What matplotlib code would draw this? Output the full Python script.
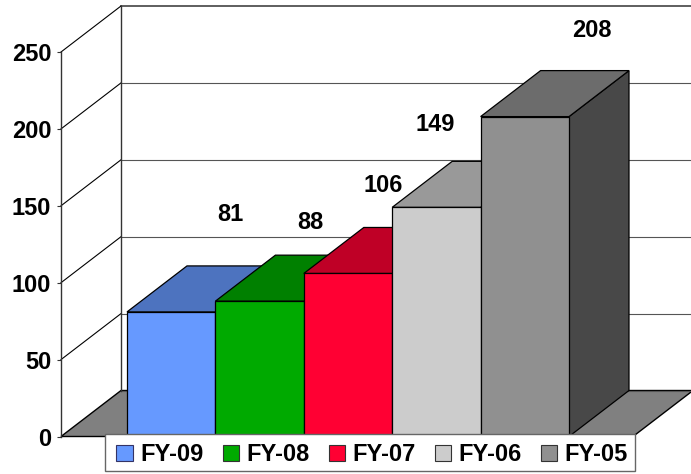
import matplotlib.pyplot as plt
from matplotlib.patches import Patch, Polygon, Rectangle
from matplotlib.colors import to_rgb

years = ['FY-09', 'FY-08', 'FY-07', 'FY-06', 'FY-05']
values = [81, 88, 106, 149, 208]
colors = ['#6699FF', '#00AA00', '#FF0033', '#CCCCCC', '#909090']
y_ticks = [0, 50, 100, 150, 200, 250]

# value labels sit away from the bars in the original, offset in pixels from bar top centre
label_offsets = [(59, -97), (51, -79), (35, -88), (-1, -83), (67, -86)]

W, H = 691, 474
plt.rcParams['font.family'] = ['Liberation Sans', 'DejaVu Sans']
fig = plt.figure(figsize=(W / 100, H / 100), dpi=100)
ax = fig.add_axes([0, 0, 1, 1])

# scale of the chart in pixels
px_per_unit = 384.5 / 250
bar_w = 88.4
bar_x0 = 127
axis_x = 61
y0_px = 436.5
depth_x = 60
depth_y = 46 / px_per_unit

ax.set_xlim(0, W)
ax.set_ylim((y0_px - H) / px_per_unit, y0_px / px_per_unit)
ax.patch.set_alpha(0)

for s in ['top', 'right', 'bottom']:
    ax.spines[s].set_visible(False)
ax.spines['left'].set_position(('data', axis_x))
ax.spines['left'].set_bounds(0, 250)
ax.spines['left'].set_color('#333333')
ax.spines['left'].set_linewidth(1)
ax.set_xticks([])
ax.set_yticks(y_ticks)
ax.tick_params(axis='y', length=3, width=0.8, color='#333333', pad=4, labelsize=17)
for t in ax.get_yticklabels():
    t.set_fontweight('bold')

# floor
back = axis_x + depth_x
ax.add_patch(Polygon([(axis_x, 0), (back, depth_y), (W + 2, depth_y), (W + 2 - depth_x, 0)],
                     facecolor='#808080', edgecolor='black', lw=1, zorder=1))

# back wall and grid
for v in y_ticks:
    lw = 1.1 if v == 250 else 0.8
    c = '#333333' if v == 250 else '#555555'
    ax.plot([back, W + 2], [v + depth_y] * 2, color=c, lw=lw, zorder=1)
    if v > 0:
        ax.plot([axis_x, back], [v, v + depth_y], color='black', lw=0.8, zorder=1)
ax.plot([back, back], [depth_y, 250 + depth_y], color='#333333', lw=1, zorder=1)

# bars, left to right so that each one covers the side of the previous
for i, (val, col) in enumerate(zip(values, colors)):
    x1 = bar_x0 + i * bar_w
    x2 = x1 + bar_w
    rgb = to_rgb(col)
    top = tuple(c * 0.75 for c in rgb)
    side = tuple(c * 0.5 for c in rgb)
    edge = dict(edgecolor='black', lw=0.9, joinstyle='miter')
    ax.add_patch(Polygon([(x2, 0), (x2 + depth_x, depth_y), (x2 + depth_x, val + depth_y), (x2, val)],
                         facecolor=side, zorder=3, **edge))
    ax.add_patch(Polygon([(x1, val), (x2, val), (x2 + depth_x, val + depth_y), (x1 + depth_x, val + depth_y)],
                         facecolor=top, zorder=3, **edge))
    ax.add_patch(Polygon([(x1, 0), (x2, 0), (x2, val), (x1, val)],
                         facecolor=col, zorder=3, **edge))

for i, (val, off) in enumerate(zip(values, label_offsets)):
    xc = bar_x0 + (i + 0.5) * bar_w
    ax.annotate(str(val), xy=(xc, val), xytext=(off[0] * 0.72, -off[1] * 0.72),
                textcoords='offset points', ha='center', va='center',
                fontsize=17, fontweight='bold', zorder=6)

# legend box is drawn on its own so the entries can sit low in it
ax.add_patch(Rectangle((105, (y0_px - 471) / px_per_unit), 530, 37 / px_per_unit,
                       facecolor='white', edgecolor='#666666', lw=1, zorder=6.5))
handles = [Patch(facecolor=c, edgecolor='#333366' if i == 0 else '#333333', lw=0.8, label=y)
           for i, (y, c) in enumerate(zip(years, colors))]
leg = ax.legend(handles=handles, ncol=5, loc='lower left',
                bbox_to_anchor=(107 / W, 1 - 475.5 / H, 530 / W, 37 / H), mode='expand',
                frameon=False, prop={'size': 17, 'weight': 'bold'}, borderaxespad=0, borderpad=0.4,
                handlelength=0.68, handleheight=0.68, handletextpad=0.32, columnspacing=0.8,
                labelspacing=0)
leg.set_zorder(7)

fig.savefig('out.png', dpi=100)
